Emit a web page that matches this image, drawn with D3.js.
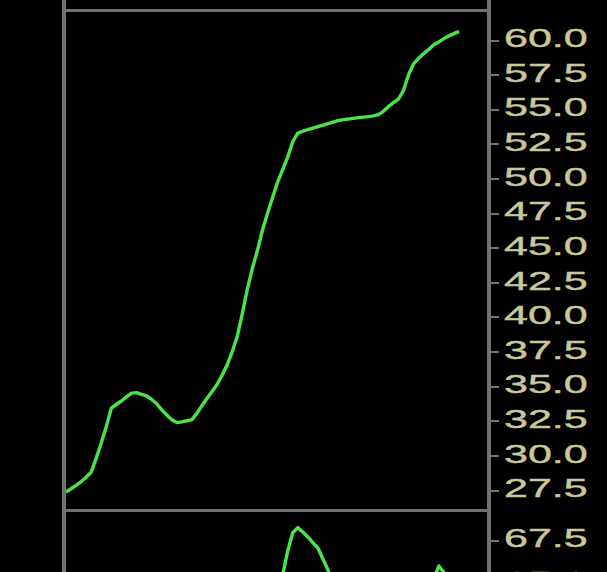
<!DOCTYPE html>
<html>
<head>
<meta charset="utf-8">
<script src="https://cdn.jsdelivr.net/npm/d3@7"></script>
<style>
  html, body { margin: 0; padding: 0; background: #000; overflow: hidden; }
  svg { display: block; }
</style>
</head>
<body>
<svg id="chart" width="607" height="572"></svg>
<script>
// ---- data ----
const topValues = [
  27.36, 27.59, 27.84, 28.11, 28.42, 28.79, 29.80, 30.89, 32.08, 33.41,
  33.69, 33.93, 34.22, 34.50, 34.53, 34.40, 34.29, 34.04, 33.73, 33.29,
  32.92, 32.58, 32.37, 32.42, 32.50, 32.58, 33.05, 33.60, 34.12, 34.62,
  35.14, 35.80, 36.54, 37.50, 38.60, 40.26, 42.02, 43.51, 44.81, 46.28,
  47.48, 48.63, 49.74, 50.63, 51.54, 52.65, 53.28, 53.41, 53.52, 53.64,
  53.75, 53.85, 53.96, 54.07, 54.18, 54.25, 54.29, 54.34, 54.39, 54.43,
  54.47, 54.52, 54.61, 54.85, 55.20, 55.48, 55.74, 56.37, 57.51, 58.28,
  58.69, 59.02, 59.32, 59.65, 59.86, 60.10, 60.30, 60.46, 60.62
];
const bottomValues = [
  62.0, 62.1, 62.3, 62.2, 62.4, 62.6, 62.5, 62.7, 62.9, 63.0,
  63.1, 63.0, 62.9, 62.8, 62.9, 63.1, 63.2, 63.0, 62.8, 62.7,
  62.9, 63.1, 63.3, 63.4, 63.2, 63.0, 63.1, 63.3, 63.5, 63.6,
  63.4, 63.3, 63.5, 63.7, 63.8, 63.9, 64.0, 64.1, 64.0, 63.9,
  64.1, 64.3, 64.5, 65.44, 66.85, 67.93, 68.23, 67.97, 67.68, 67.34,
  67.03, 66.38, 65.73, 64.8, 64.2, 63.9, 63.8, 63.9, 64.0, 64.1,
  64.0, 63.9, 64.0, 64.2, 64.3, 64.4, 64.5, 64.6, 64.7, 64.8,
  64.9, 65.0, 65.1, 65.2, 65.97, 65.6, 65.2, 64.9, 64.7
];
const topTicks = [27.5, 30.0, 32.5, 35.0, 37.5, 40.0, 42.5, 45.0, 47.5, 50.0, 52.5, 55.0, 57.5, 60.0];
const bottomTicks = [65.0, 67.5];

// ---- styles ----
const W = 607, H = 572;
const frameColor = "#717171";
const lineColor = "#4ae44a";
const labelColor = "#c9c89a";
const sx = 1.72; // horizontal stretch of the label font

const svg = d3.select("#chart");
svg.append("rect").attr("width", W).attr("height", H).attr("fill", "#000");

const x = d3.scaleLinear().domain([0, topValues.length - 1]).range([66, 459]);
const yTop = d3.scaleLinear().domain([27.5, 60]).range([490, 40]);
const yBot = d3.scaleLinear().domain([65, 67.5]).range([582.4, 540]);

const defs = svg.append("defs");
defs.append("clipPath").attr("id", "clipTop")
  .append("rect").attr("x", 66).attr("y", 12).attr("width", 421).attr("height", 497);
defs.append("clipPath").attr("id", "clipBot")
  .append("rect").attr("x", 66).attr("y", 512).attr("width", 421).attr("height", 80);

const line = (ys) => d3.line().x((d, i) => x(i)).y(d => ys(d));

svg.append("path")
  .datum(topValues)
  .attr("clip-path", "url(#clipTop)")
  .attr("fill", "none")
  .attr("stroke", lineColor)
  .attr("stroke-width", 3.4)
  .attr("stroke-linejoin", "round")
  .attr("d", line(yTop));

svg.append("path")
  .datum(bottomValues)
  .attr("clip-path", "url(#clipBot)")
  .attr("fill", "none")
  .attr("stroke", lineColor)
  .attr("stroke-width", 3.4)
  .attr("stroke-linejoin", "round")
  .attr("d", line(yBot));

// frame
svg.append("rect").attr("x", 62).attr("y", 0).attr("width", 4).attr("height", H).attr("fill", frameColor);
svg.append("rect").attr("x", 487).attr("y", 0).attr("width", 4).attr("height", H).attr("fill", frameColor);
svg.append("rect").attr("x", 66).attr("y", 9).attr("width", 421).attr("height", 3).attr("fill", frameColor);
svg.append("rect").attr("x", 66).attr("y", 509).attr("width", 421).attr("height", 3).attr("fill", frameColor);

function drawAxis(scale, ticks) {
  const g = svg.append("g")
    .attr("transform", "translate(491,0)")
    .call(d3.axisRight(scale).tickValues(ticks).tickSize(8).tickPadding(5).tickFormat(d3.format(".1f")));
  g.select(".domain").remove();
  g.selectAll(".tick line")
    .attr("stroke", frameColor)
    .attr("stroke-width", 2)
    .attr("shape-rendering", "crispEdges");
  g.selectAll(".tick text")
    .attr("fill", labelColor)
    .attr("stroke", labelColor)
    .attr("stroke-width", 0.4)
    .attr("font-family", "'Liberation Sans', Arial, sans-serif")
    .attr("font-size", 25)
    .attr("x", 13 / sx)
    .attr("dy", "0.27em")
    .attr("transform", `scale(${sx},1)`);
}
drawAxis(yTop, topTicks);
drawAxis(yBot, bottomTicks);
</script>
</body>
</html>
